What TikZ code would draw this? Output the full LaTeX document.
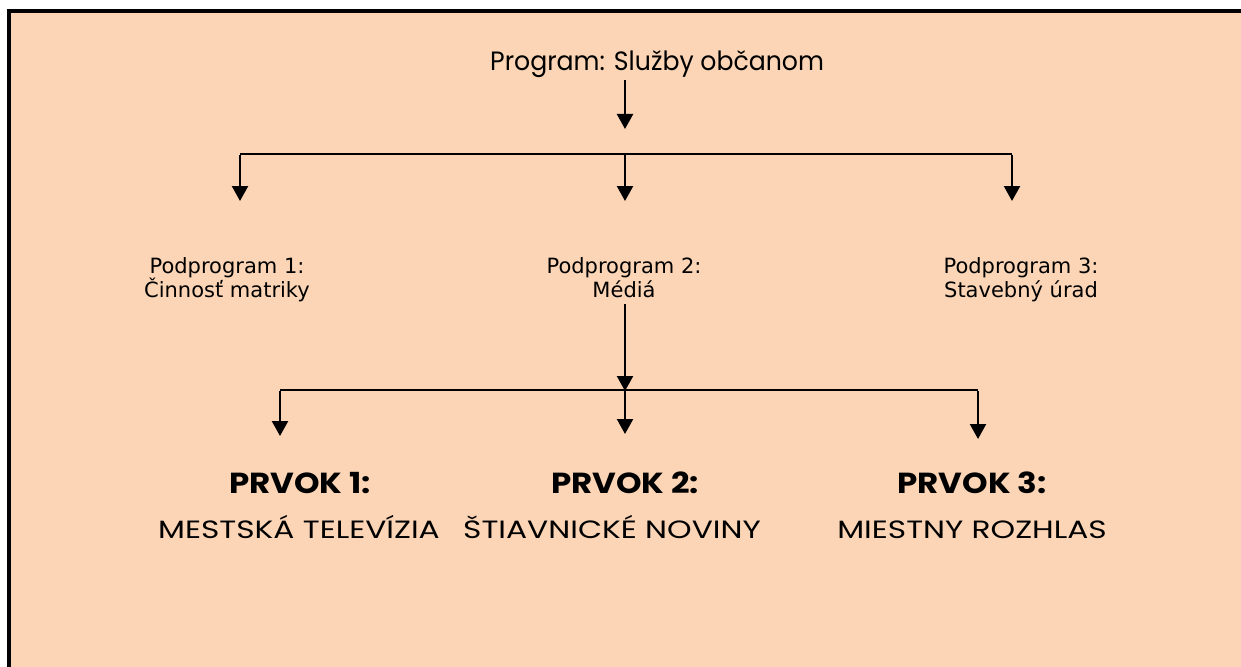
\documentclass[tikz,border=0pt]{standalone}
\usepackage{fontspec}
\setmainfont{DejaVu Sans}
\newfontfamily\geotitle{Poppins}[FakeStretch=0.95]
\newfontfamily\geohead{Poppins}[FakeStretch=1.12]
\newfontfamily\geoname{Poppins}[FakeStretch=1.25]
\usetikzlibrary{arrows.meta}
\definecolor{peach}{RGB}{251,213,181}
\begin{document}
\begin{tikzpicture}[x=1pt,y=-1pt,
  conn/.style={line width=2.3pt},
  arr/.style={conn,-{Triangle[length=15pt,width=16pt]}},
  titletext/.style={font=\geotitle\fontsize{26.5}{32}\selectfont,anchor=base west,inner sep=0pt},
  subtext/.style={font=\fontsize{21}{24}\selectfont,align=center,anchor=base,inner sep=0pt},
  headtext/.style={font=\geohead\bfseries\fontsize{29}{34}\selectfont,anchor=base,inner sep=0pt},
  nametext/.style={font=\geoname\fontsize{25}{30}\selectfont,anchor=base,inner sep=0pt}]
\useasboundingbox (0,0) rectangle (1241,666);
\fill[white] (0,0) rectangle (1241,666);
% framed background panel
\draw[line width=4pt,fill=peach] (9,11) rectangle (1270,700);

% program and sub-programs (base anchor = baseline of the last line)
\node[titletext] (prog) at (490,71) {Program: Služby občanom};
\node[subtext] (p1) at (227,297) {Podprogram 1:\\Činnosť matriky};
\node[subtext] (p2) at (624,297) {Podprogram 2:\\Médiá};
\node[subtext] (p3) at (1021,297) {Podprogram 3:\\Stavebný úrad};

% elements of sub-program 2
\node[headtext] (h1) at (300,493) {PRVOK 1:};
\node[nametext] (n1) at (299,538) {MESTSKÁ TELEVÍZIA};
\node[headtext] (h2) at (625,493) {PRVOK 2:};
\node[nametext] (n2) at (612,538) {ŠTIAVNICKÉ NOVINY};
\node[headtext] (h3) at (972,493) {PRVOK 3:};
\node[nametext] (n3) at (972,538) {MIESTNY ROZHLAS};

% upper distribution
\coordinate (t0) at (625,80);
\coordinate (t1) at (625,129);
\coordinate (b1) at (240,154);
\coordinate (b2) at (625,154);
\coordinate (b3) at (1012,154);
\coordinate (d1) at (240,201);
\coordinate (d2) at (625,201);
\coordinate (d3) at (1012,201);
\draw[arr] (t0) -- (t1);
\draw[conn] (b1) -- (b3);
\draw[arr] ([yshift=-1.15pt]b1) -- (d1);
\draw[arr] (b2) -- (d2);
\draw[arr] ([yshift=-1.15pt]b3) -- (d3);

% lower distribution
\coordinate (m0) at (625,304);
\coordinate (m1) at (625,391);
\coordinate (c1) at (280,390);
\coordinate (c2) at (625,390);
\coordinate (c3) at (978,390);
\coordinate (e1) at (280,436);
\coordinate (e2) at (625,434);
\coordinate (e3) at (978,439);
\draw[arr] (m0) -- (m1);
\draw[conn] (c1) -- (c3);
\draw[arr] ([yshift=-1.15pt]c1) -- (e1);
\draw[arr] (c2) -- (e2);
\draw[arr] ([yshift=-1.15pt]c3) -- (e3);
\end{tikzpicture}
\end{document}
